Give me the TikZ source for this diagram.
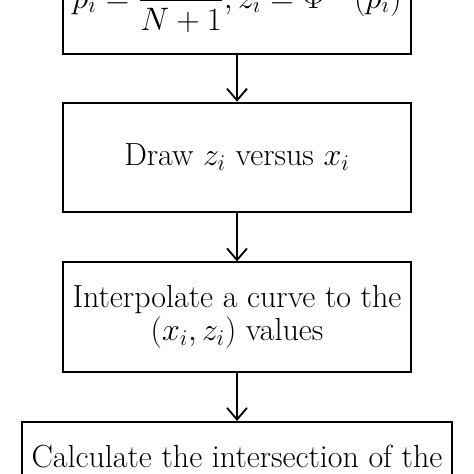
\RequirePackage{fix-cm}
\documentclass[tikz,border=0pt]{standalone}
\usepackage{amsmath}
\usepackage{tikz}
\usetikzlibrary{arrows.meta}

\begin{document}
\begin{tikzpicture}[
	flowbox/.style={draw,line width=1.1pt,align=center,minimum width=7.34cm,minimum height=2.31cm,inner sep=0pt,font=\fontsize{19.2pt}{19.9pt}\selectfont},
	flowarrow/.style={-{Straight Barb[length=7pt,width=12pt]},line width=1.1pt}
]
	\useasboundingbox (0,0) rectangle (10,-10);

	\node[flowbox,minimum height=2.33cm,font=\fontsize{19.5pt}{20pt}\selectfont] (quantiles) at (5,0.03) {$\displaystyle p_{i} = \frac{i}{N+1}, z_{i} = \Phi^{-1}(p_{i})$};

	\node[flowbox] (plot) at (5,-3.32) {Draw $z_{i}$ versus $x_{i}$};

	\node[flowbox] (interp) at (5,-6.69) {Interpolate a curve to the\\$(x_{i}, z_{i})$ values};

	\node[flowbox,anchor=north,minimum width=9.07cm,text height=0.97cm,text depth=1.5cm] (intersect) at (5,-8.88) {Calculate the intersection of the};

	\draw[flowarrow] (quantiles) -- (plot);
	\draw[flowarrow] (plot) -- (interp);
	\draw[flowarrow] (interp) -- (intersect);
\end{tikzpicture}
\end{document}
